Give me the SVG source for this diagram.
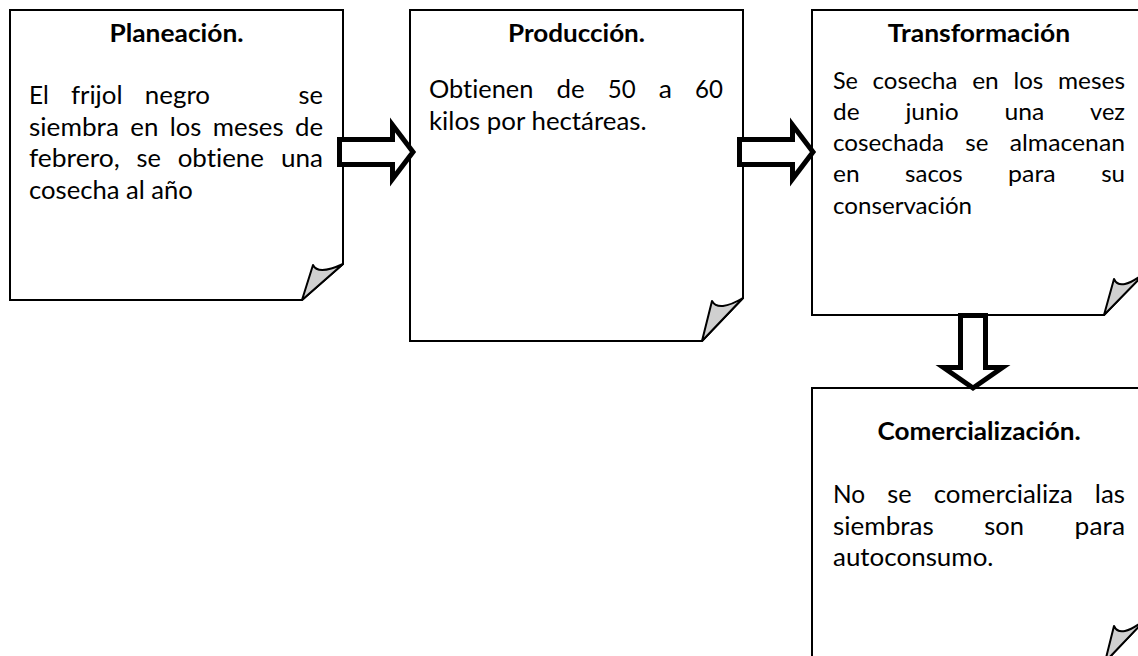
<svg xmlns="http://www.w3.org/2000/svg" width="1138" height="656" viewBox="0 0 1138 656">
<style>
.box{fill:#fff;stroke:#000;stroke-width:2}
.fold{fill:#d0d0d0;stroke:#000;stroke-width:2;stroke-linejoin:round}
.arrow{fill:#fff;stroke:#000;stroke-width:5;stroke-linejoin:miter}
text{font-variant-ligatures:none;font-feature-settings:"liga" 0,"clig" 0}
.t{font-family:Lato,"Open Sans","Liberation Sans",sans-serif;font-weight:bold;font-size:25.5px;text-anchor:middle;fill:#000}
.b{font-family:Lato,"Open Sans","Liberation Sans",sans-serif;font-size:25px;fill:#000}
.s{font-family:Lato,"Open Sans","Liberation Sans",sans-serif;font-size:23.8px;fill:#000}
</style>
<rect width="1138" height="656" fill="#fff"/>
<g id="planeacion">
<path class="box" d="M10,10 H343 V264 L302,300 H10 Z"/>
<path class="fold" d="M302,300 L313,265 Q318,275.5 343,264 Z"/>
<text class="t" x="176.5" y="41.5" textLength="134.1" lengthAdjust="spacingAndGlyphs">Planeación.</text>
<g class="b">
<text x="29" y="104" textLength="19.7" lengthAdjust="spacingAndGlyphs">El</text>
<text x="70.9" y="104" textLength="51.7" lengthAdjust="spacingAndGlyphs">frijol</text>
<text x="144.8" y="104" textLength="65.2" lengthAdjust="spacingAndGlyphs">negro</text>
<text x="298.6" y="104" textLength="24.4" lengthAdjust="spacingAndGlyphs">se</text>
<text x="29" y="135.5" textLength="89.9" lengthAdjust="spacingAndGlyphs">siembra</text>
<text x="130.3" y="135.5" textLength="28.1" lengthAdjust="spacingAndGlyphs">en</text>
<text x="169.8" y="135.5" textLength="31.6" lengthAdjust="spacingAndGlyphs">los</text>
<text x="212.8" y="135.5" textLength="70.8" lengthAdjust="spacingAndGlyphs">meses</text>
<text x="295" y="135.5" textLength="28.1" lengthAdjust="spacingAndGlyphs">de</text>
<text x="29" y="167" textLength="90.7" lengthAdjust="spacingAndGlyphs">febrero,</text>
<text x="136.5" y="167" textLength="24.4" lengthAdjust="spacingAndGlyphs">se</text>
<text x="177.7" y="167" textLength="86.3" lengthAdjust="spacingAndGlyphs">obtiene</text>
<text x="280.9" y="167" textLength="42.1" lengthAdjust="spacingAndGlyphs">una</text>
<text x="29" y="198.5" textLength="163.9" lengthAdjust="spacingAndGlyphs">cosecha al año</text>
</g>
</g>
<g id="produccion">
<path class="box" d="M410,10 H743 V298 L702,341 H410 Z"/>
<path class="fold" d="M702,341 L712,301 Q718.5,312.5 743,298 Z"/>
<text class="t" x="576.5" y="41.5" textLength="137" lengthAdjust="spacingAndGlyphs">Producción.</text>
<g class="b">
<text x="429" y="98" textLength="104.4" lengthAdjust="spacingAndGlyphs">Obtienen</text>
<text x="556.5" y="98" textLength="28.1" lengthAdjust="spacingAndGlyphs">de</text>
<text x="607.7" y="98" textLength="27.9" lengthAdjust="spacingAndGlyphs">50</text>
<text x="658.7" y="98" textLength="13.2" lengthAdjust="spacingAndGlyphs">a</text>
<text x="695.1" y="98" textLength="27.9" lengthAdjust="spacingAndGlyphs">60</text>
<text x="429" y="129.5" textLength="217.6" lengthAdjust="spacingAndGlyphs">kilos por hectáreas.</text>
</g>
</g>
<g id="transformacion">
<path class="box" d="M812,10 H1146 V272 L1104,315 H812 Z"/>
<path class="fold" d="M1104,315 L1114,279 Q1120,292.5 1146,272 Z"/>
<text class="t" x="979" y="41.5" textLength="182.3" lengthAdjust="spacingAndGlyphs">Transformación</text>
<g class="s">
<text x="833" y="88.5" textLength="24.9" lengthAdjust="spacingAndGlyphs">Se</text>
<text x="872.6" y="88.5" textLength="84.9" lengthAdjust="spacingAndGlyphs">cosecha</text>
<text x="972.2" y="88.5" textLength="26.6" lengthAdjust="spacingAndGlyphs">en</text>
<text x="1013.5" y="88.5" textLength="29.8" lengthAdjust="spacingAndGlyphs">los</text>
<text x="1058" y="88.5" textLength="67" lengthAdjust="spacingAndGlyphs">meses</text>
<text x="833" y="119.5" textLength="26.6" lengthAdjust="spacingAndGlyphs">de</text>
<text x="905.4" y="119.5" textLength="53.2" lengthAdjust="spacingAndGlyphs">junio</text>
<text x="1004.4" y="119.5" textLength="39.8" lengthAdjust="spacingAndGlyphs">una</text>
<text x="1090.1" y="119.5" textLength="34.9" lengthAdjust="spacingAndGlyphs">vez</text>
<text x="833" y="150.5" textLength="111" lengthAdjust="spacingAndGlyphs">cosechada</text>
<text x="965.3" y="150.5" textLength="23.1" lengthAdjust="spacingAndGlyphs">se</text>
<text x="1009.7" y="150.5" textLength="115.3" lengthAdjust="spacingAndGlyphs">almacenan</text>
<text x="833" y="182" textLength="26.6" lengthAdjust="spacingAndGlyphs">en</text>
<text x="905.1" y="182" textLength="57.5" lengthAdjust="spacingAndGlyphs">sacos</text>
<text x="1008.1" y="182" textLength="47.6" lengthAdjust="spacingAndGlyphs">para</text>
<text x="1101.2" y="182" textLength="23.8" lengthAdjust="spacingAndGlyphs">su</text>
<text x="833" y="213.5" textLength="139.1" lengthAdjust="spacingAndGlyphs">conservación</text>
</g>
</g>
<g id="comercializacion">
<path class="box" d="M812,388 H1146 V619 L1105,662 H812 Z"/>
<path class="fold" d="M1105,662 L1114,626 Q1120,639.5 1146,619 Z"/>
<text class="t" x="979" y="439.5" textLength="203.2" lengthAdjust="spacingAndGlyphs">Comercialización.</text>
<g class="b">
<text x="833" y="503" textLength="32.1" lengthAdjust="spacingAndGlyphs">No</text>
<text x="887.2" y="503" textLength="24.4" lengthAdjust="spacingAndGlyphs">se</text>
<text x="933.7" y="503" textLength="139.1" lengthAdjust="spacingAndGlyphs">comercializa</text>
<text x="1094.8" y="503" textLength="30.2" lengthAdjust="spacingAndGlyphs">las</text>
<text x="833" y="534.5" textLength="100.7" lengthAdjust="spacingAndGlyphs">siembras</text>
<text x="984.3" y="534.5" textLength="39.7" lengthAdjust="spacingAndGlyphs">son</text>
<text x="1074.6" y="534.5" textLength="50.4" lengthAdjust="spacingAndGlyphs">para</text>
<text x="833" y="566" textLength="160.5" lengthAdjust="spacingAndGlyphs">autoconsumo.</text>
</g>
</g>
<g id="connectors">
<path class="arrow" d="M339.5,139.5 H392.5 V125 L413,152 L392.5,179 V164.5 H339.5 Z"/>
<path class="arrow" d="M739.5,139.5 H792.5 V125 L813,152 L792.5,179 V164.5 H739.5 Z"/>
<path class="arrow" d="M960.5,315.5 H985.5 V367.5 H1002.5 L973,388 L943.5,367.5 H960.5 Z"/>
</g>
</svg>
